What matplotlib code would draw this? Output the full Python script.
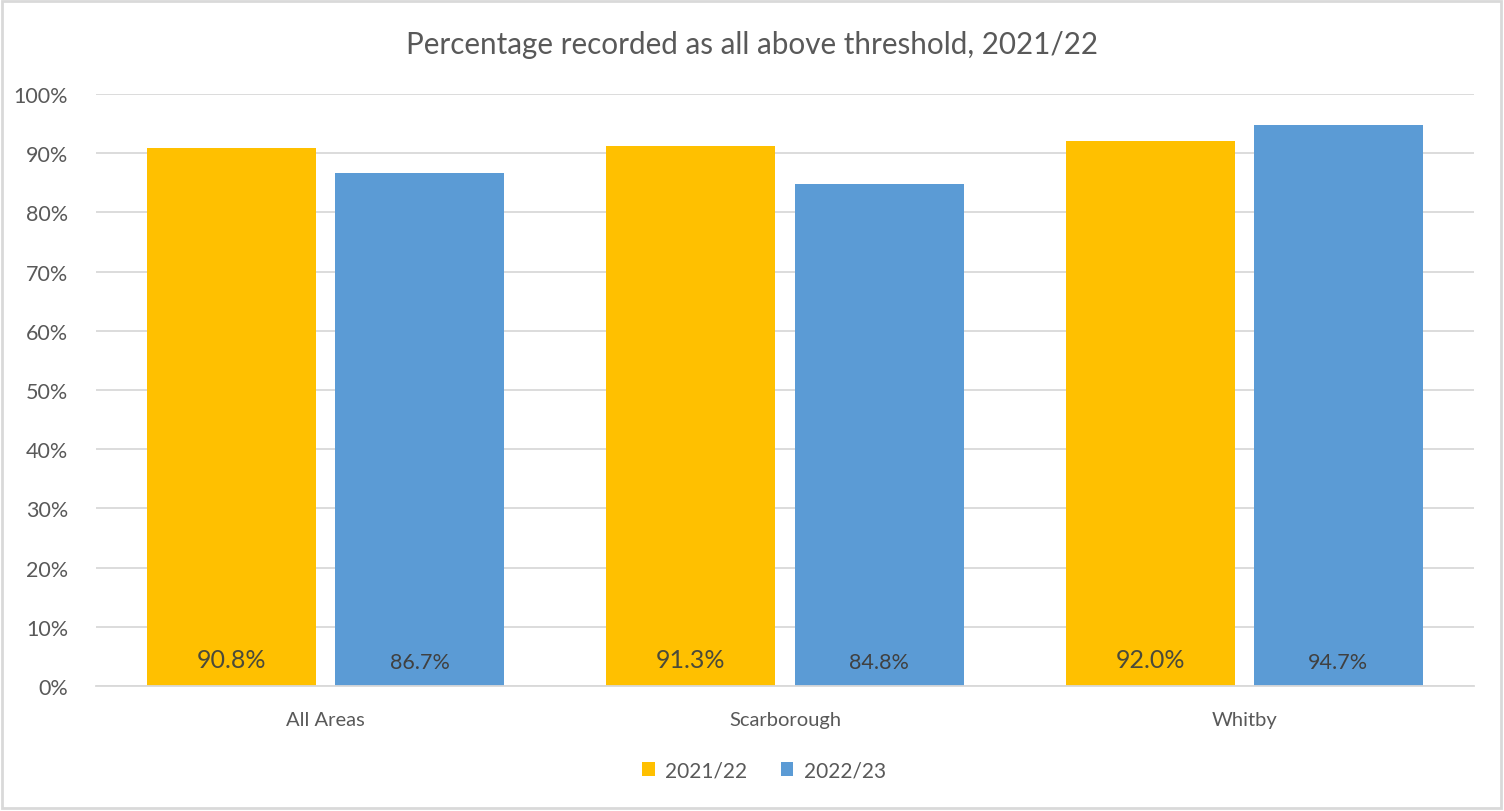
import matplotlib.pyplot as plt
import numpy as np

# Data
areas = ["All Areas", "Scarborough", "Whitby"]
vals_2122 = [0.908, 0.913, 0.920]
vals_2223 = [0.867, 0.848, 0.947]
series_names = ["2021/22", "2022/23"]
yticks = np.arange(0, 1.01, 0.1)

plt.rcParams['font.family'] = ['Lato', 'DejaVu Sans']
txt = "#595959"

fig = plt.figure(figsize=(15.04, 8.12), dpi=100)
ax = fig.add_axes([0.0638, 0.154, 0.9162, 0.729])

x = np.arange(len(areas))
w = 0.368
off = 0.205
b1 = ax.bar(x - off, vals_2122, width=w, color="#FFC000", label=series_names[0], zorder=2)
b2 = ax.bar(x + off, vals_2223, width=w, color="#5B9BD5", label=series_names[1], zorder=2)

for rect, v in zip(b1, vals_2122):
    ax.text(rect.get_x() + rect.get_width() / 2, 0.045, f"{v*100:.1f}%",
            ha="center", va="center", fontsize=18, color="#4a4a3a", zorder=3)
for rect, v in zip(b2, vals_2223):
    ax.text(rect.get_x() + rect.get_width() / 2, 0.041, f"{v*100:.1f}%",
            ha="center", va="center", fontsize=15.5, color="#404040", zorder=3)

ax.set_xlim(-0.5, 2.5)
ax.set_ylim(0, 1.0)
ax.set_yticks(yticks)
ax.set_yticklabels([f"{int(round(t*100))}%" for t in yticks])
ax.set_xticks(x)
ax.set_xticklabels(areas)
ax.tick_params(axis='y', length=0, labelsize=15.5, colors=txt, pad=20)
ax.tick_params(axis='x', length=0, labelsize=14.5, colors=txt, pad=18)
ax.yaxis.grid(True, color="#D9D9D9", linewidth=1.3, zorder=0)
ax.set_axisbelow(True)
for s in ["top", "right", "left"]:
    ax.spines[s].set_visible(False)
ax.spines["bottom"].set_color("#D9D9D9")
ax.spines["bottom"].set_linewidth(1.3)

fig.text(0.5, 0.944, "Percentage recorded as all above threshold, 2021/22",
         ha="center", va="center", fontsize=21.3, color=txt)

fig.legend(handles=[b1, b2], loc="center", bbox_to_anchor=(0.508, 0.05), ncol=2,
           frameon=False, fontsize=15, labelcolor=txt, handlelength=0.6,
           handleheight=0.6, handletextpad=0.5, columnspacing=1.6)

# light frame around the whole figure
fig.patches.append(plt.Rectangle((0.001, 0.004), 0.997, 0.993, transform=fig.transFigure,
                                 fill=False, edgecolor="#D9D9D9", linewidth=2))

fig.savefig("out.png", dpi=100)
